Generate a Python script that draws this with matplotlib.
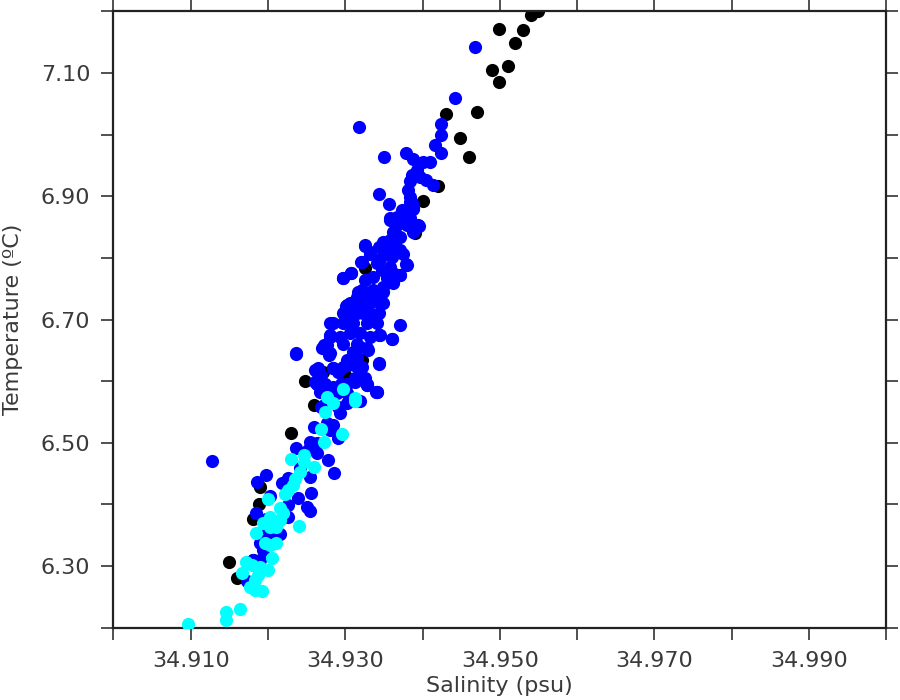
import matplotlib
matplotlib.use('Agg')
import matplotlib.pyplot as plt
from matplotlib.ticker import MultipleLocator, FormatStrFormatter

# salinity / temperature pairs, one group per colour
black_sal = [34.9540, 34.9549, 34.9499, 34.9530, 34.9520, 34.9510, 34.9490, 34.9499,
             34.9470, 34.9430, 34.9449, 34.9460, 34.9420, 34.9400, 34.9390, 34.9326,
             34.9248, 34.9271, 34.9321, 34.9300, 34.9259, 34.9280, 34.9230, 34.9190,
             34.9189, 34.9180, 34.9150, 34.9160, 34.9180]
black_temp = [7.194, 7.201, 7.171, 7.170, 7.148, 7.112, 7.105, 7.086,
              7.036, 7.033, 6.995, 6.963, 6.917, 6.893, 6.840, 6.783,
              6.601, 6.615, 6.634, 6.610, 6.561, 6.588, 6.516, 6.428,
              6.401, 6.376, 6.307, 6.281, 6.310]

blue_sal = [
    # upper tail
    34.9468, 34.9442, 34.9424, 34.9424, 34.9416, 34.9424, 34.9378, 34.9388,
    34.9318, 34.9350, 34.9401, 34.9410, 34.9393, 34.9386, 34.9397, 34.9405,
    34.9414, 34.9384, 34.9344, 34.9356, 34.9381, 34.9384, 34.9386, 34.9388,
    34.9373, 34.9358, 34.9367, 34.9375, 34.9396, 34.9325, 34.9332, 34.9320,
    34.9297, 34.9308, 34.9379, 34.9371, 34.9362, 34.9316, 34.9301, 34.9280,
    34.9371, 34.9360, 34.9344, 34.9280, 34.9270, 34.9276, 34.9236, 34.9279,
    34.9319, 34.9330, 34.9344, 34.9261, 34.9265, 34.9284, 34.9304, 34.9315,
    34.9323, 34.9328, 34.9340, 34.9263, 34.9315,
    # dense body
    34.9384, 34.9380, 34.9388, 34.9371, 34.9375, 34.9384, 34.9358, 34.9367,
    34.9380, 34.9394, 34.9388, 34.9362, 34.9371, 34.9358, 34.9349, 34.9364,
    34.9354, 34.9371, 34.9326, 34.9332, 34.9343, 34.9360, 34.9345, 34.9375,
    34.9380, 34.9358, 34.9347, 34.9362, 34.9371, 34.9341, 34.9321, 34.9297,
    34.9308, 34.9326, 34.9336, 34.9354, 34.9362, 34.9349, 34.9336, 34.9321,
    34.9315, 34.9328, 34.9345, 34.9306, 34.9317, 34.9332, 34.9349, 34.9302,
    34.9315, 34.9328, 34.9343,
    34.9319, 34.9336, 34.9349, 34.9302, 34.9315, 34.9328, 34.9345, 34.9297,
    34.9310, 34.9323, 34.9336, 34.9284, 34.9297, 34.9310, 34.9328, 34.9341,
    34.9280, 34.9293, 34.9306, 34.9319, 34.9332, 34.9345, 34.9360, 34.9272,
    34.9297, 34.9315, 34.9328, 34.9280, 34.9310, 34.9236, 34.9302, 34.9315,
    34.9343, 34.9284, 34.9297, 34.9321, 34.9263, 34.9269, 34.9291, 34.9313,
    34.9326, 34.9261, 34.9274, 34.9284, 34.9302, 34.9328, 34.9341, 34.9267,
    34.9289, 34.9306, 34.9319, 34.9272, 34.9302,
    # lower limb
    34.9263, 34.9272, 34.9295, 34.9313, 34.9328, 34.9341, 34.9302, 34.9269,
    34.9291, 34.9293, 34.9276, 34.9284, 34.9259, 34.9280, 34.9291, 34.9254,
    34.9263, 34.9252, 34.9263, 34.9236, 34.9278, 34.9286, 34.9254, 34.9241,
    34.9198, 34.9186, 34.9218, 34.9226, 34.9256, 34.9239, 34.9203, 34.9226,
    34.9250, 34.9254, 34.9185, 34.9198, 34.9226, 34.9200, 34.9211, 34.9216,
    34.9190, 34.9198, 34.9194, 34.9190, 34.9180, 34.9173, 34.9181, 34.9128,
]
blue_temp = [
    7.142, 7.059, 7.017, 6.999, 6.983, 6.971, 6.970, 6.961,
    7.012, 6.963, 6.956, 6.956, 6.943, 6.934, 6.932, 6.926,
    6.918, 6.924, 6.903, 6.888, 6.910, 6.899, 6.889, 6.880,
    6.878, 6.864, 6.867, 6.870, 6.852, 6.820, 6.807, 6.794,
    6.767, 6.776, 6.790, 6.773, 6.761, 6.745, 6.722, 6.694,
    6.691, 6.668, 6.675, 6.672, 6.653, 6.659, 6.644, 6.642,
    6.656, 6.650, 6.627, 6.618, 6.621, 6.621, 6.626, 6.623,
    6.602, 6.594, 6.583, 6.596, 6.605,
    6.891, 6.878, 6.881, 6.867, 6.861, 6.864, 6.861, 6.853,
    6.853, 6.853, 6.842, 6.842, 6.834, 6.829, 6.826, 6.818,
    6.813, 6.813, 6.821, 6.810, 6.818, 6.802, 6.799, 6.807,
    6.788, 6.786, 6.780, 6.775, 6.772, 6.791, 6.794, 6.768,
    6.776, 6.764, 6.769, 6.767, 6.759, 6.753, 6.748, 6.748,
    6.737, 6.737, 6.735, 6.727, 6.721, 6.727, 6.727, 6.710,
    6.710, 6.713, 6.710,
    6.743, 6.743, 6.745, 6.724, 6.727, 6.727, 6.727, 6.710,
    6.713, 6.710, 6.707, 6.694, 6.694, 6.694, 6.694, 6.694,
    6.675, 6.672, 6.678, 6.678, 6.672, 6.675, 6.668, 6.659,
    6.661, 6.661, 6.653, 6.645, 6.648, 6.645, 6.634, 6.637,
    6.629, 6.621, 6.623, 6.623, 6.615, 6.610, 6.615, 6.605,
    6.605, 6.599, 6.596, 6.591, 6.596, 6.594, 6.583, 6.583,
    6.580, 6.575, 6.567, 6.561, 6.564,
    6.596, 6.596, 6.596, 6.599, 6.595, 6.582, 6.580, 6.558,
    6.558, 6.548, 6.532, 6.529, 6.526, 6.521, 6.507, 6.502,
    6.499, 6.488, 6.483, 6.492, 6.472, 6.451, 6.444, 6.459,
    6.447, 6.437, 6.434, 6.442, 6.419, 6.411, 6.414, 6.399,
    6.395, 6.389, 6.386, 6.376, 6.380, 6.358, 6.353, 6.352,
    6.337, 6.342, 6.326, 6.310, 6.310, 6.275, 6.269, 6.470,
]

cyan_sal = [34.9297, 34.9276, 34.9313, 34.9284, 34.9312, 34.9274, 34.9268, 34.9296,
            34.9272, 34.9246, 34.9230, 34.9246, 34.9260, 34.9241, 34.9235, 34.9233,
            34.9226, 34.9222, 34.9200, 34.9216, 34.9220, 34.9203, 34.9216, 34.9194,
            34.9240, 34.9203, 34.9211, 34.9184, 34.9196, 34.9203, 34.9211, 34.9205,
            34.9172, 34.9179, 34.9190, 34.9200, 34.9166, 34.9187, 34.9183, 34.9177,
            34.9183, 34.9192, 34.9146, 34.9164, 34.9146, 34.9096]
cyan_temp = [6.588, 6.575, 6.572, 6.564, 6.568, 6.550, 6.522, 6.514,
             6.501, 6.480, 6.474, 6.469, 6.460, 6.453, 6.441, 6.431,
             6.423, 6.417, 6.408, 6.394, 6.386, 6.380, 6.375, 6.370,
             6.365, 6.364, 6.364, 6.354, 6.337, 6.334, 6.338, 6.313,
             6.307, 6.301, 6.299, 6.294, 6.288, 6.285, 6.277, 6.266,
             6.261, 6.260, 6.225, 6.230, 6.212, 6.206]

plt.rcParams['font.family'] = ['DejaVu Sans']

fig = plt.figure(figsize=(9, 7), dpi=100)
ax = fig.add_axes([0.126, 0.1034, 0.8588, 0.8803])

dot = 90
ax.scatter(black_sal, black_temp, s=dot, color='black', linewidths=0, zorder=2)
ax.scatter(blue_sal, blue_temp, s=dot, color='#0000ff', linewidths=0, zorder=3)
ax.scatter(cyan_sal, cyan_temp, s=dot, color='#00ffff', linewidths=0, zorder=4)

ax.set_xlim(34.900, 35.000)
ax.set_ylim(6.20, 7.20)

ax.xaxis.set_minor_locator(MultipleLocator(0.01))
ax.yaxis.set_minor_locator(MultipleLocator(0.1))
ax.set_xticks([34.91, 34.93, 34.95, 34.97, 34.99])
ax.set_yticks([6.30, 6.50, 6.70, 6.90, 7.10])
ax.xaxis.set_major_formatter(FormatStrFormatter('%.3f'))
ax.yaxis.set_major_formatter(FormatStrFormatter('%.2f'))

for spine in ax.spines.values():
    spine.set_linewidth(1.6)
    spine.set_color('#222222')

ax.tick_params(which='both', direction='out', length=8.5, width=1.1, color='#222222',
               top=True, right=True, labelsize=16, labelcolor='#3a3a3a', pad=8)

ax.set_xlabel('Salinity (psu)', fontsize=16, color='#3a3a3a')
ax.set_ylabel('Temperature (ºC)', fontsize=16, color='#3a3a3a')
ax.xaxis.set_label_coords(0.5, -0.079)
ax.yaxis.set_label_coords(-0.117, 0.5)

fig.savefig('out.png', dpi=100)
